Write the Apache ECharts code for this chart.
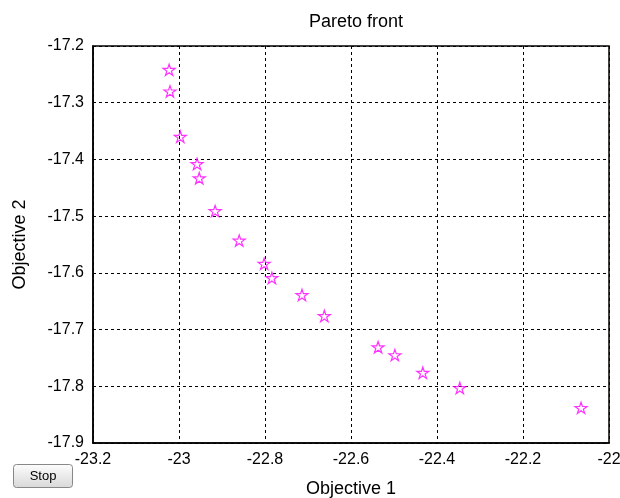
<!DOCTYPE html>
<html>
<head>
<meta charset="utf-8">
<script src="https://cdn.jsdelivr.net/npm/echarts@6/dist/echarts.min.js"></script>
<style>
html,body{margin:0;padding:0;background:#fff;}
#chart{width:620px;height:498px;}
</style>
</head>
<body>
<div id="chart"></div>
<script>
const objective1 = [-23.023, -23.021, -22.997, -22.958, -22.953, -22.916, -22.860, -22.802, -22.784, -22.714, -22.662, -22.537, -22.498, -22.433, -22.347, -22.065];
const objective2 = [-17.242, -17.280, -17.360, -17.408, -17.433, -17.491, -17.543, -17.584, -17.609, -17.639, -17.676, -17.731, -17.745, -17.776, -17.803, -17.838];
const xTicks = [-23.2, -23, -22.8, -22.6, -22.4, -22.2, -22];
const yTicks = [-17.9, -17.8, -17.7, -17.6, -17.5, -17.4, -17.3, -17.2];

const starPath = 'path://M50,0L61.2,34.5L97.6,34.5L68.2,55.9L79.4,90.5L50,69.1L20.6,90.5L31.8,55.9L2.4,34.5L38.8,34.5Z';
const font = 'Liberation Sans, Arial, Helvetica, sans-serif';

const chart = echarts.init(document.getElementById('chart'), null, {renderer: 'canvas'});
chart.setOption({
  backgroundColor: '#fff',
  animation: false,
  title: {
    text: 'Pareto front',
    left: 351, top: 8, textAlign: 'center',
    textStyle: {fontFamily: font, fontSize: 18, fontWeight: 'normal', color: '#000'}
  },
  grid: {left: 93, right: 11, top: 46, bottom: 55, containLabel: false, outerBoundsMode: 'none',
    show: true, borderColor: '#000', borderWidth: 1.5, backgroundColor: 'transparent'},
  xAxis: {
    type: 'value', min: xTicks[0], max: xTicks[xTicks.length - 1], interval: 0.2,
    name: 'Objective 1', nameLocation: 'middle', nameGap: 37,
    nameTextStyle: {fontFamily: font, fontSize: 18, color: '#000'},
    axisLine: {show: true, onZero: false, lineStyle: {color: '#000', width: 1.5}},
    axisTick: {show: false},
    axisLabel: {fontFamily: font, fontSize: 16, color: '#000', margin: 9,
      formatter: v => String(+v.toFixed(1))},
    splitLine: {show: true, lineStyle: {color: '#000', type: [3, 3], width: 1}}
  },
  yAxis: {
    type: 'value', min: yTicks[0], max: yTicks[yTicks.length - 1], interval: 0.1,
    name: 'Objective 2', nameLocation: 'middle', nameGap: 64, nameRotate: 90,
    nameTextStyle: {fontFamily: font, fontSize: 18, color: '#000'},
    axisLine: {show: true, onZero: false, lineStyle: {color: '#000', width: 1.5}},
    axisTick: {show: false},
    axisLabel: {fontFamily: font, fontSize: 16, color: '#000', margin: 9,
      formatter: v => String(+v.toFixed(1))},
    splitLine: {show: true, lineStyle: {color: '#000', type: [3, 3], width: 1}}
  },
  series: [{
    type: 'scatter',
    data: objective1.map((x, i) => [x, objective2[i]]),
    symbol: starPath, symbolSize: 12, symbolKeepAspect: true,
    itemStyle: {color: 'rgba(255,255,255,0)', borderColor: '#ff00ff', borderWidth: 1.2}
  }],
  graphic: [{
    type: 'group', left: 13, top: 464,
    children: [{
      type: 'rect', shape: {x: 0, y: 0, width: 59, height: 23, r: 3},
      style: {
        fill: new echarts.graphic.LinearGradient(0, 0, 0, 1, [{offset: 0, color: '#fdfdfd'}, {offset: 1, color: '#d8d8d8'}]),
        stroke: '#888', lineWidth: 1
      }
    }, {
      type: 'text', x: 29.5, y: 11.5,
      style: {text: 'Stop', fontFamily: font, fontSize: 13, fill: '#000', align: 'center', verticalAlign: 'middle'}
    }]
  }]
});
</script>
</body>
</html>
